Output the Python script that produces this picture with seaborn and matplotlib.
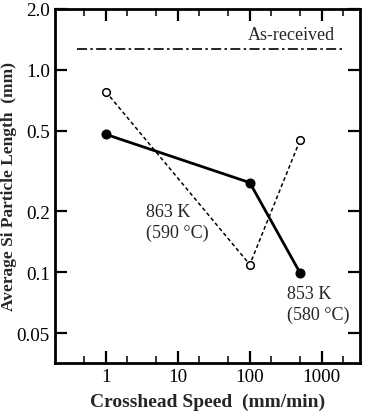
import numpy as np
import pandas as pd
import matplotlib
matplotlib.use("Agg")
import matplotlib.pyplot as plt
from matplotlib.ticker import FixedLocator, NullFormatter, NullLocator
import seaborn as sns

# Data
speed_853 = [1, 100, 500]
length_853 = [0.48, 0.277, 0.099]
speed_863 = [1, 100, 500]
length_863 = [0.78, 0.109, 0.45]
as_received_x = [0.4, 2000]
as_received_y = [1.27, 1.27]

y_ticks = [0.05, 0.1, 0.2, 0.5, 1.0, 2.0]
y_ticklabels = ["0.05", "0.1", "0.2", "0.5", "1.0", "2.0"]
x_ticks = [1, 10, 100, 1000]
x_ticklabels = ["1", "10", "100", "1000"]
x_minor = [0.5, 2, 5, 20, 50, 200, 500, 2000]

sns.set_style("ticks")
plt.rcParams['font.family'] = ['Liberation Serif', 'DejaVu Serif']

fig = plt.figure(figsize=(3.68, 4.14), dpi=100)
ax = fig.add_axes([0.149, 0.121, 0.829, 0.855])

df853 = pd.DataFrame({"x": speed_853, "y": length_853})
df863 = pd.DataFrame({"x": speed_863, "y": length_863})
dfar = pd.DataFrame({"x": as_received_x, "y": as_received_y})

sns.lineplot(data=dfar, x="x", y="y", ax=ax, color="black", lw=1.2,
             linestyle=(0, (6, 2, 1.5, 2)))
sns.lineplot(data=df863, x="x", y="y", ax=ax, color="black", lw=1.1,
             linestyle=(0, (2.5, 1.8)), marker="o", markersize=5.5,
             markerfacecolor="white", markeredgecolor="black", markeredgewidth=1.1)
sns.lineplot(data=df853, x="x", y="y", ax=ax, color="black", lw=2.0,
             marker="o", markersize=6.5, markerfacecolor="black",
             markeredgecolor="black")

ax.set_xscale("log")
ax.set_yscale("log")
ax.set_xlim(0.196, 3380)
ax.set_ylim(0.0356, 2.0)

ax.yaxis.set_major_locator(FixedLocator(y_ticks))
ax.set_yticklabels(y_ticklabels)
ax.yaxis.set_minor_locator(NullLocator())
ax.xaxis.set_major_locator(FixedLocator(x_ticks))
ax.set_xticklabels(x_ticklabels)
ax.xaxis.set_minor_locator(FixedLocator(x_minor))
ax.xaxis.set_minor_formatter(NullFormatter())

ax.tick_params(which="major", direction="in", length=8.5, width=1.6,
               top=True, right=True, labelsize=13.8, pad=3.5, colors="black")
ax.tick_params(which="minor", direction="in", length=5, width=1.3,
               top=True, right=True)
for s in ax.spines.values():
    s.set_linewidth(2.0)
    s.set_color("black")

ax.set_xlabel("Crosshead Speed  (mm/min)", fontsize=14, fontweight="bold", labelpad=6)
ax.set_ylabel("Average Si Particle Length  (mm)", fontsize=12.5, fontweight="bold", labelpad=0)

ax.text(380, 1.49, "As-received", fontsize=13, ha="center", va="center")
ax.text(3.6, 0.177, "863 K\n(590 °C)", fontsize=13, ha="left", va="center", linespacing=1.3)
ax.text(330, 0.0695, "853 K\n(580 °C)", fontsize=13, ha="left", va="center", linespacing=1.3)

fig.savefig("out.png", dpi=100)
